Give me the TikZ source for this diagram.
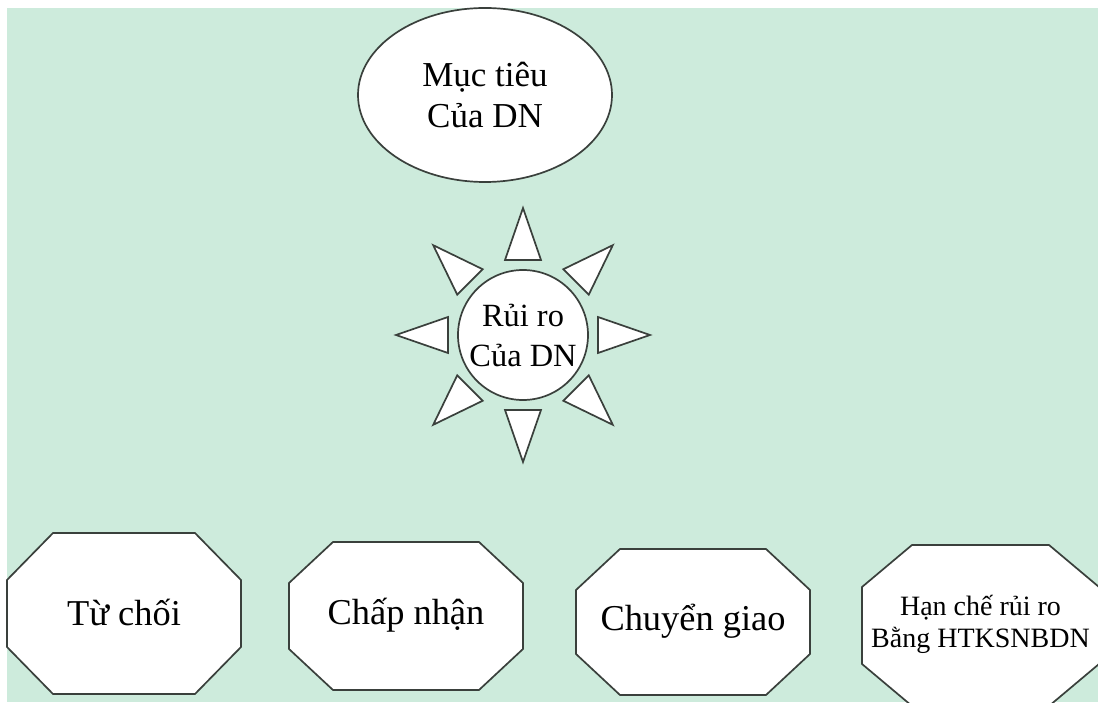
\documentclass[tikz,border=0pt]{standalone}
\usepackage{fontspec}
\setmainfont{Liberation Serif}
\usepackage{xcolor}
\usepackage{tikz}
\usetikzlibrary{shapes.geometric}

\definecolor{mint}{RGB}{205,235,220}
\definecolor{edgegray}{RGB}{58,64,60}

\begin{document}
\begin{tikzpicture}[x=0.5pt, y=0.5pt,
  outline/.style={draw=edgegray, line width=0.85pt, fill=white, line join=miter},
  goal/.style={outline, ellipse, minimum width=127pt, minimum height=87pt, inner sep=0pt,
    align=center, font=\fontsize{17.5}{20}\selectfont},
  risk/.style={outline, circle, minimum size=65pt, inner sep=0pt,
    align=center, font=\fontsize{16.2}{20}\selectfont},
  choicetext/.style={align=center, inner sep=0pt}]
\useasboundingbox (0,0) rectangle (1098,702);
\fill[mint] (7,0) rectangle (1098,694);

\node[goal] (goal) at (485,607) {Mục tiêu\\Của DN};

\node[risk] (risk) at (523,367) {Rủi ro\\Của DN};
\foreach \a in {0,45,...,315}
  \draw[outline, shift={(risk.center)}, rotate=\a] (75,-18) -- (127,0) -- (75,18) -- cycle;

% octagons: centre x/y, width, height, corner cut x/y, name, font size, text
\foreach \cx/\cy/\w/\h/\kx/\ky/\n/\fs/\t in {
    124/88.5/234/161/46/47/reject/18.2/{Từ chối},
    406/86/234/148/44/41/accept/18.2/{Chấp nhận},
    693/80/234/146/44/41/transfer/18.2/{Chuyển giao},
    980.5/76.5/237/161/50/42/limit/14/{Hạn chế rủi ro\\Bằng HTKSNBDN}} {
  \draw[outline] (\cx-\w/2,\cy-\h/2+\ky) -- ++(0,\h-2*\ky) -- ++(\kx,\ky)
    -- ++(\w-2*\kx,0) -- ++(\kx,-\ky) -- ++(0,-\h+2*\ky) -- ++(-\kx,-\ky)
    -- ++(-\w+2*\kx,0) -- cycle;
  \node[choicetext, font=\fontsize{\fs}{16}\selectfont] (\n) at (\cx,\cy+1) {\t};
}
\end{tikzpicture}
\end{document}
